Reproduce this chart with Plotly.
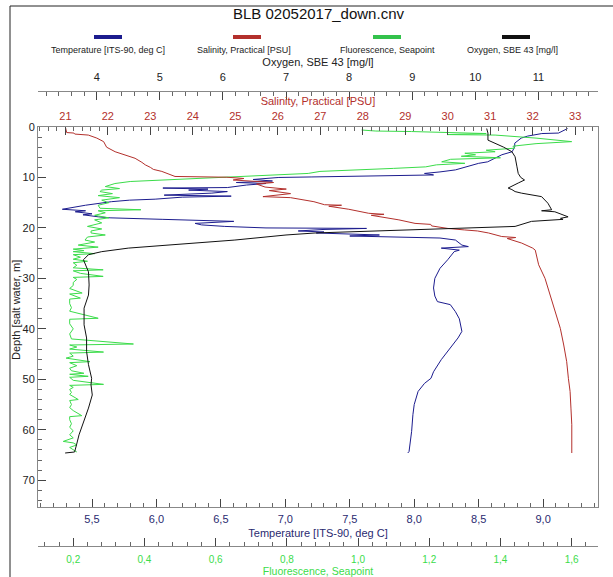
import plotly.graph_objects as go

# ---------------- data ----------------
temp_depth = [0.3, 0.6, 1.2, 1.3, 1.8, 2.2, 3.2, 3.9, 4.9, 5.5, 6.2, 6.9, 7.2, 7.6, 8.2, 8.5, 8.9, 9.2, 9.5,
              9.8, 9.9, 10.0, 10.4, 10.7, 11.0, 11.2, 11.5, 12.0, 12.1, 12.3, 12.5, 12.8, 13.1, 13.5, 13.7,
              13.9, 14.3, 14.5, 14.8, 15.5, 16.3, 16.6, 16.8, 17.2, 17.4, 17.8, 18.0, 18.3, 18.4, 18.7,
              19.1, 19.4, 19.7, 20.0, 20.1, 20.3, 20.6, 20.8, 21.0, 21.4, 21.6, 22.0, 22.4, 23.0, 23.4,
              23.7, 24.0, 24.4, 24.7, 26.3, 28.0, 30.0, 31.9, 33.5, 34.6, 35.2, 36.6, 38.0, 39.2, 40.5,
              41.8, 43.8, 46.1, 48.5, 49.8, 50.8, 52.4, 55.0, 57.0, 60.3, 64.3, 64.6]
temp_vals = [9.19, 9.17, 9.12, 8.99, 8.88, 8.83, 8.78, 8.78, 8.76, 8.68, 8.62, 8.57, 8.50, 8.45, 8.37, 8.32,
             8.20, 8.08, 8.15, 7.60, 7.20, 6.95, 6.75, 6.90, 6.62, 6.85, 6.70, 6.55, 6.05, 6.40, 6.25,
             6.55, 6.43, 6.06, 6.58, 6.20, 5.99, 5.79, 5.65, 5.45, 5.27, 5.45, 5.37, 5.50, 5.43, 5.55,
             5.64, 6.05, 6.24, 6.60, 6.30, 6.35, 6.53, 6.85, 7.63, 7.30, 7.10, 7.30, 7.24, 7.73, 7.50,
             8.20, 8.32, 8.35, 8.37, 8.42, 8.21, 8.35, 8.31, 8.26, 8.20, 8.16, 8.15, 8.16, 8.18, 8.28,
             8.32, 8.35, 8.36, 8.37, 8.34, 8.28, 8.21, 8.15, 8.13, 8.08, 8.03, 8.00, 7.99, 7.98, 7.96, 7.95]

sal_depth = [0.0, 1.1, 1.2, 1.4, 1.6, 2.2, 2.9, 3.5, 4.0, 4.9, 5.5, 6.2, 7.0, 7.5, 8.0, 8.4, 8.8, 9.5, 9.8,
             9.95, 10.2, 10.5, 10.7, 11.0, 11.3, 11.9, 12.3, 12.6, 13.2, 13.8, 14.0, 14.8, 15.4, 15.5,
             15.7, 16.3, 17.1, 17.3, 17.5, 18.4, 19.1, 19.3, 19.6, 20.1, 20.4, 20.6, 21.0, 21.7, 21.9,
             22.1, 23.0, 24.0, 24.4, 27.3, 30.0, 33.3, 36.6, 39.9, 43.2, 46.5, 49.8, 52.4, 55.7, 59.0, 64.6]
sal_vals = [21.0, 21.03, 21.2, 21.22, 21.54, 21.74, 21.9, 21.93, 21.97, 22.17, 22.4, 22.64, 22.8, 22.88,
            23.0, 23.07, 23.27, 23.5, 23.58, 24.8, 25.2, 24.95, 25.4, 25.9, 25.5, 25.7, 26.2, 25.8, 26.3,
            25.65, 26.3, 26.85, 27.1, 27.5, 27.2, 27.67, 28.14, 28.5, 28.2, 28.85, 29.23, 29.6, 29.62,
            30.0, 30.4, 30.7, 30.96, 31.27, 31.6, 31.4, 31.74, 32.0, 32.06, 32.14, 32.29, 32.41, 32.53,
            32.65, 32.73, 32.8, 32.84, 32.88, 32.9, 32.92, 32.92]

fluo_depth = [0.6, 0.8, 0.9, 1.1, 1.3, 1.5, 1.6, 2.2, 2.9, 3.3, 3.8, 4.2, 4.6, 4.9, 5.2, 5.5, 5.8, 6.1, 6.4,
              6.9, 7.2, 7.5, 7.9, 8.2, 8.5, 8.8, 9.2, 9.8, 10.2, 10.5, 10.8, 11.2, 11.8, 12.2, 12.5, 12.8,
              13.2, 13.6, 14.0, 14.5, 15.0, 15.5, 16.1, 16.4, 16.6, 17.0, 17.5, 18.0, 18.4, 19.0, 19.7,
              20.2, 20.6, 21.0, 21.4, 21.8, 22.4, 22.8, 23.4, 23.8, 24.2, 24.5, 24.7, 25.1, 25.3, 25.8,
              26.2, 26.6, 26.9, 27.4, 27.9, 28.3, 28.5, 29.0, 29.6, 29.8, 30.2, 30.8, 31.4, 32.0, 32.9,
              33.1, 33.9, 34.1, 35.0, 35.8, 36.5, 37.9, 38.1, 39.0, 40.0, 41.0, 42.0, 43.0, 43.2, 43.6,
              44.0, 44.6, 44.8, 45.4, 45.8, 46.5, 46.7, 47.3, 47.8, 48.3, 48.8, 49.0, 49.4, 49.6, 50.2,
              51.0, 51.2, 51.6, 52.0, 52.6, 53.0, 54.0, 54.2, 55.0, 55.6, 56.2, 57.2, 57.4, 58.0, 58.8,
              59.5, 60.2, 61.0, 61.6, 62.3, 62.6, 63.0, 63.5, 64.0, 64.4]
fluo_vals = [1.01, 1.05, 1.15, 1.30, 1.36, 1.25, 1.385, 1.50, 1.60, 1.50, 1.435, 1.44, 1.36, 1.385, 1.30,
             1.33, 1.29, 1.40, 1.26, 1.235, 1.30, 1.22, 1.19, 1.10, 0.99, 0.893, 0.86, 0.655, 0.52, 0.42,
             0.36, 0.317, 0.29, 0.33, 0.28, 0.275, 0.31, 0.27, 0.33, 0.28, 0.30, 0.27, 0.275, 0.39, 0.27,
             0.29, 0.26, 0.30, 0.26, 0.28, 0.24, 0.28, 0.25, 0.25, 0.29, 0.24, 0.233, 0.26, 0.214, 0.27,
             0.20, 0.23, 0.20, 0.26, 0.20, 0.22, 0.20, 0.24, 0.20, 0.21, 0.20, 0.284, 0.20, 0.22, 0.284,
             0.20, 0.21, 0.20, 0.20, 0.19, 0.225, 0.19, 0.22, 0.19, 0.19, 0.195, 0.19, 0.27, 0.19, 0.19,
             0.20, 0.19, 0.195, 0.369, 0.19, 0.21, 0.19, 0.285, 0.19, 0.20, 0.18, 0.247, 0.19, 0.21, 0.19,
             0.195, 0.23, 0.19, 0.242, 0.19, 0.20, 0.285, 0.19, 0.20, 0.19, 0.195, 0.19, 0.214, 0.19,
             0.195, 0.19, 0.20, 0.224, 0.19, 0.19, 0.195, 0.19, 0.20, 0.19, 0.20, 0.172, 0.20, 0.21,
             0.19, 0.20, 0.21]

oxy_depth = [0.3, 1.2, 2.6, 3.2, 4.0, 4.9, 5.9, 7.9, 9.2, 10.0, 10.5, 11.1, 12.1, 12.4, 12.8, 13.1, 13.8,
             15.1, 16.4, 16.6, 16.8, 17.8, 18.1, 18.3, 18.7, 19.7, 20.4, 21.0, 21.4, 22.4, 23.4, 24.0,
             24.7, 25.3, 26.3, 27.0, 28.7, 31.3, 33.3, 35.9, 39.2, 41.8, 44.5, 47.1, 49.8, 51.1, 53.1,
             55.7, 58.4, 61.0, 63.0, 64.4, 64.6]
oxy_vals = [10.18, 10.2, 10.2, 10.31, 10.45, 10.58, 10.63, 10.66, 10.68, 10.72, 10.78, 10.68, 10.52,
            10.58, 10.63, 10.73, 11.05, 11.15, 11.21, 11.05, 11.26, 11.47, 11.35, 11.39, 10.89, 10.63,
            9.04, 7.46, 7.0, 6.19, 5.13, 4.5, 4.08, 3.87, 3.79, 3.81, 3.87, 3.88, 3.87, 3.80, 3.80, 3.84,
            3.84, 3.87, 3.92, 3.91, 3.93, 3.87, 3.79, 3.72, 3.68, 3.65, 3.50]

temp_ticks = [5.5, 6.0, 6.5, 7.0, 7.5, 8.0, 8.5, 9.0]
fluo_ticks = [0.2, 0.4, 0.6, 0.8, 1.0, 1.2, 1.4, 1.6]
sal_ticks = list(range(21, 34))
oxy_ticks = list(range(4, 12))
depth_ticks = [0, 10, 20, 30, 40, 50, 60, 70]

series_names = ["Temperature [ITS-90, deg C]", "Salinity, Practical [PSU]",
                "Fluorescence, Seapoint", "Oxygen, SBE 43 [mg/l]"]
depth_title = "Depth [salt water, m]"
chart_title = "BLB 02052017_down.cnv"

# ---------------- styling ----------------
C_TEMP = "#1c1c8e"
C_SAL = "#b3302c"
C_FLUO = "#3bdc4a"
C_OXY = "#111111"
C_TEMP_TXT = "#2a2a70"
FONT = "Liberation Sans, Arial, sans-serif"
W, H = 613, 577
PL, PR, PT, PB = 38, 598, 127, 507   # plot area in pixels


def py(ypix):
    return (H - ypix) / H


def px(xpix):
    return (xpix - PL) / (PR - PL)


fig = go.Figure()
fig.add_trace(go.Scatter(x=fluo_vals, y=fluo_depth, xaxis="x2", yaxis="y", mode="lines",
                         line=dict(color=C_FLUO, width=1), name=series_names[2]))
fig.add_trace(go.Scatter(x=sal_vals, y=sal_depth, xaxis="x3", yaxis="y", mode="lines",
                         line=dict(color=C_SAL, width=1), name=series_names[1]))
fig.add_trace(go.Scatter(x=oxy_vals, y=oxy_depth, xaxis="x4", yaxis="y", mode="lines",
                         line=dict(color=C_OXY, width=1), name=series_names[3]))
fig.add_trace(go.Scatter(x=temp_vals, y=temp_depth, xaxis="x", yaxis="y", mode="lines",
                         line=dict(color=C_TEMP, width=1), name=series_names[0]))

axis_common = dict(showgrid=False, zeroline=False, showline=True, linecolor="#888888", linewidth=1,
                   ticks="inside", ticklen=8, tickcolor="#444444", tickwidth=1, automargin=False)

fig.update_layout(
    width=W, height=H,
    margin=dict(l=PL, r=W - PR, t=0, b=0, autoexpand=False),
    paper_bgcolor="white", plot_bgcolor="white",
    showlegend=False,
    separators=", ",
    font=dict(family=FONT, size=11, color="#222"),
    yaxis=dict(domain=[py(PB), py(PT)], range=[75.3, 0], tickvals=depth_ticks,
               mirror=True, **axis_common,
               minor=dict(dtick=2, tick0=0, ticks="inside", ticklen=4, tickcolor="#666"),
               tickfont=dict(size=11, color="#222")),
    xaxis=dict(range=[5.081, 9.426], tickvals=temp_ticks, tickformat=".1f", side="bottom", anchor="y",
               **axis_common, ticklabelstandoff=2,
               minor=dict(dtick=0.1, tick0=5.0, ticks="inside", ticklen=4, tickcolor="#666"),
               tickfont=dict(size=11, color=C_TEMP_TXT),
               title=dict(text=series_names[0], font=dict(size=11, color=C_TEMP_TXT), standoff=5)),
    xaxis2=dict(range=[0.101, 1.674], tickvals=fluo_ticks, tickformat=".1f", side="bottom",
                anchor="free", position=py(546), overlaying="x", **axis_common, ticklabelstandoff=4,
                minor=dict(dtick=0.04, tick0=0.0, ticks="inside", ticklen=4, tickcolor="#666"),
                tickfont=dict(size=10, color=C_FLUO),
                title=dict(text=series_names[2], font=dict(size=10.5, color=C_FLUO), standoff=3)),
    xaxis3=dict(range=[20.355, 33.537], tickvals=sal_ticks, side="top", anchor="y", overlaying="x",
                **axis_common, ticklabelstandoff=2,
                minor=dict(dtick=0.2, tick0=20.0, ticks="inside", ticklen=4, tickcolor="#666"),
                tickfont=dict(size=11, color=C_SAL),
                title=dict(text=series_names[1], font=dict(size=11, color=C_SAL), standoff=1)),
    xaxis4=dict(range=[3.07, 11.944], tickvals=oxy_ticks, side="top", anchor="free",
                position=py(91), overlaying="x", **axis_common, ticklabelstandoff=6,
                minor=dict(dtick=0.2, tick0=3.0, ticks="inside", ticklen=4, tickcolor="#666"),
                tickfont=dict(size=11, color="#222"),
                title=dict(text=series_names[3], font=dict(size=11, color="#222"), standoff=0)),
)

# depth axis title (placed close to the tick labels like the reference)
fig.add_annotation(text=depth_title, xref="paper", yref="paper", x=px(16), y=py(310),
                   xanchor="center", yanchor="middle", textangle=-90, showarrow=False,
                   font=dict(size=11, color="#222"))

# chart title
fig.add_annotation(text=chart_title, xref="paper", yref="paper", x=px(318), y=py(13),
                   xanchor="center", yanchor="middle", showarrow=False,
                   font=dict(size=15, color="#111"))

# custom legend: coloured bar above each label
legend_text_x = [108, 244, 387, 512]
legend_bar_x = [108, 247, 387, 516]
legend_colors = [C_TEMP, C_SAL, "#33c24c", C_OXY]
for name, tx, bx, col in zip(series_names, legend_text_x, legend_bar_x, legend_colors):
    fig.add_shape(type="line", xref="paper", yref="paper", x0=px(bx - 14), x1=px(bx + 14),
                  y0=py(37), y1=py(37), line=dict(color=col, width=4))
    fig.add_annotation(text=name, xref="paper", yref="paper", x=px(tx), y=py(50),
                       xanchor="center", yanchor="middle", showarrow=False,
                       font=dict(size=9, color="#222"))

# outer frame
fig.add_shape(type="rect", xref="paper", yref="paper", x0=px(10), x1=px(640), y0=py(600), y1=py(6),
              line=dict(color="#222", width=1), fillcolor="rgba(0,0,0,0)", layer="below")

fig.write_html("out.html")
